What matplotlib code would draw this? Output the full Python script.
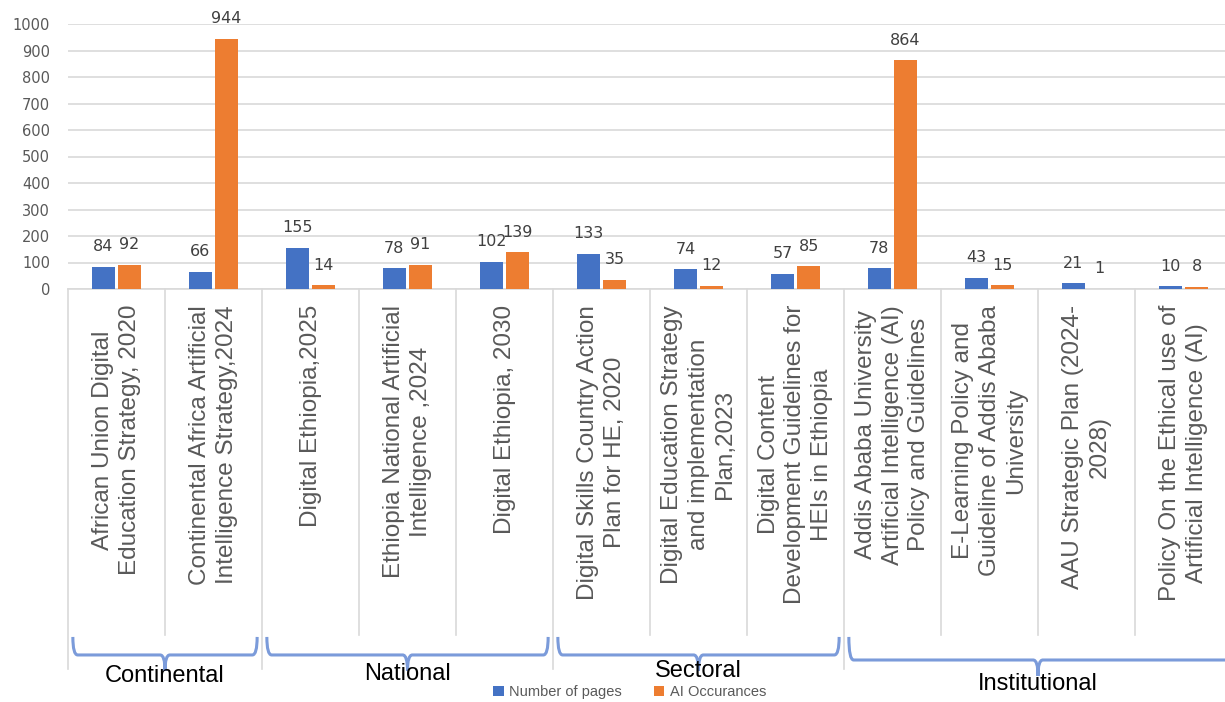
import matplotlib.pyplot as plt
import matplotlib.transforms as mtransforms
from matplotlib.path import Path
from matplotlib.patches import PathPatch
import numpy as np

categories = [
    "African Union Digital\nEducation Strategy, 2020",
    "Continental Africa Artificial\nIntelligence Strategy,2024",
    "Digital Ethiopia,2025",
    "Ethiopia National Artificial\nIntelligence ,2024",
    "Digital Ethiopia, 2030",
    "Digital Skills Country Action\nPlan for HE, 2020",
    "Digital Education Strategy\nand implementation\nPlan,2023",
    "Digital Content\nDevelopment Guidelines for\nHEIs in Ethiopia",
    "Addis Ababa University\nArtificial Intelligence (AI)\nPolicy and Guidelines",
    "E-Learning Policy and\nGuideline of Addis Ababa\nUniversity",
    "AAU Strategic Plan (2024-\n2028)",
    "Policy On the Ethical use of\nArtificial Intelligence (AI)",
]
pages = [84, 66, 155, 78, 102, 133, 74, 57, 78, 43, 21, 10]
ai_occ = [92, 944, 14, 91, 139, 35, 12, 85, 864, 15, 1, 8]
groups = ["Continental", "National", "Sectoral", "Institutional"]
group_sizes = [2, 3, 3, 4]

blue = "#4472C4"
orange = "#ED7D31"
grid_c = "#D9D9D9"
txt_c = "#595959"
brace_c = "#7B9BDA"

plt.rcParams["font.family"] = ["Liberation Sans", "DejaVu Sans"]

fig = plt.figure(figsize=(12.25, 7.02), dpi=100)
W, H = 1225, 702
ax = fig.add_axes([68 / W, (H - 289) / H, 1164 / W, 265 / H])

x = np.arange(len(categories))
bw = 0.23
b1 = ax.bar(x - 0.135, pages, bw, color=blue, label="Number of pages", zorder=3)
b2 = ax.bar(x + 0.135, ai_occ, bw, color=orange, label="AI Occurances", zorder=3)
for bars in (b1, b2):
    ax.bar_label(bars, padding=9, fontsize=11.5, color="#404040", family="DejaVu Sans")

ax.set_xlim(-0.5, len(categories) - 0.5)
ax.set_ylim(0, 1000)
ax.set_yticks(np.arange(0, 1001, 100))
ax.tick_params(axis="y", length=0, pad=13, labelsize=10.5, labelcolor=txt_c)
for lab in ax.get_yticklabels():
    lab.set_family("DejaVu Sans")
ax.set_xticks([])
ax.grid(axis="y", color=grid_c, linewidth=1.2, zorder=0)
for s in ["top", "right", "left"]:
    ax.spines[s].set_visible(False)
ax.spines["bottom"].set_color(grid_c)
ax.spines["bottom"].set_linewidth(1.2)

trans = mtransforms.blended_transform_factory(ax.transData, ax.transAxes)

# category labels, rotated
for i, c in enumerate(categories):
    ax.text(i, -0.06, c, rotation=90, ha="center", va="top", multialignment="center",
            fontsize=17.5, color=txt_c, transform=trans, linespacing=1.25)

# dividers
bounds = np.cumsum([0] + group_sizes)
for k in range(len(categories) + 1):
    low = -1.434 if k in bounds else -1.307
    ax.plot([k - 0.5, k - 0.5], [0, low], color=grid_c, lw=1.2, transform=trans, clip_on=False)

# braces and group labels
def brace(x0, x1, xm, ytop, ybot, ytip):
    d = 0.05
    verts = [(x0, ytop), (x0, ybot), (x0 + d, ybot),
             (xm - d, ybot), (xm, ybot), (xm, ytip),
             (xm, ybot), (xm + d, ybot),
             (x1 - d, ybot), (x1, ybot), (x1, ytop)]
    codes = [Path.MOVETO, Path.CURVE3, Path.CURVE3,
             Path.LINETO, Path.CURVE3, Path.CURVE3,
             Path.CURVE3, Path.CURVE3,
             Path.LINETO, Path.CURVE3, Path.CURVE3]
    ax.add_patch(PathPatch(Path(verts, codes), fill=False, edgecolor=brace_c, lw=2.2,
                           transform=trans, clip_on=False))

label_y = [-1.46, -1.452, -1.44, -1.49]
for g, name in enumerate(groups):
    s, e = bounds[g], bounds[g + 1]
    x0 = s - 0.5 + 0.05
    x1 = e - 0.5 - 0.05
    if g == len(groups) - 1:
        x1 = e - 0.2
    xm = (s + e - 1) / 2
    ybot = -1.381 if g < 3 else -1.40
    brace(x0, x1, xm, -1.313, ybot, ybot - 0.06)
    ax.text(xm, label_y[g], name, ha="center", va="center", fontsize=17,
            color="black", transform=trans)

fig.legend(loc="center", bbox_to_anchor=(630 / W, 1 - 692 / H), ncol=2, frameon=False,
           fontsize=10.5, handlelength=0.7, handleheight=0.7, handletextpad=0.4,
           columnspacing=2.2, labelcolor=txt_c)

fig.savefig("out.png", dpi=100)
